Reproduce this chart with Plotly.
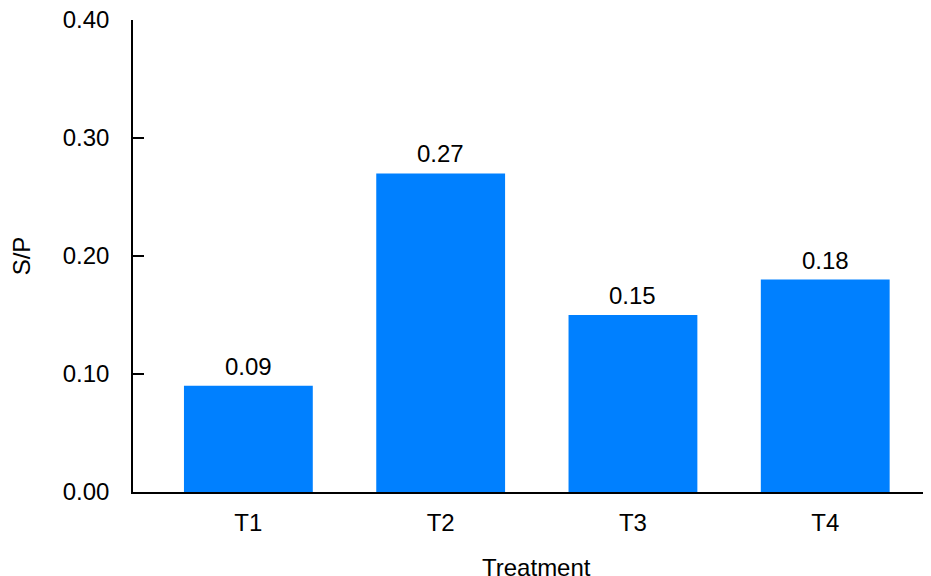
import plotly.graph_objects as go

categories = ["T1", "T2", "T3", "T4"]
values = [0.09, 0.27, 0.15, 0.18]
y_ticks = [0.0, 0.1, 0.2, 0.3, 0.4]
y_tick_labels = ["0.00", "0.10", "0.20", "0.30", "0.40"]
x_title = "Treatment"
y_title = "S/P"

FONT = "Liberation Sans, Arial, Helvetica, sans-serif"
COLOR = "#0080ff"

fig = go.Figure()
fig.add_trace(go.Bar(
    x=categories, y=values, marker=dict(color=COLOR, line=dict(width=0)),
    width=0.67, showlegend=False, hoverinfo="skip",
))

for c, v in zip(categories, values):
    fig.add_annotation(x=c, y=v, text=f"{v:.2f}", showarrow=False,
                       yanchor="bottom", yshift=4,
                       font=dict(family=FONT, size=24, color="black"))

fig.add_annotation(x=0.506, y=0, xref="paper", yref="paper", text=x_title,
                   showarrow=False, xanchor="center", yanchor="middle", yshift=-75,
                   font=dict(family=FONT, size=24, color="black"))

fig.update_layout(
    width=923, height=568,
    margin=dict(l=125, r=0, t=12, b=84, pad=0),
    plot_bgcolor="white", paper_bgcolor="white",
    font=dict(family=FONT, size=24, color="black"),
    bargap=0.33,
)
fig.update_xaxes(
    range=[-0.6, 3.55], showline=True, linecolor="black", linewidth=1.5,
    ticks="", showgrid=False, zeroline=False, automargin=False,
    tickfont=dict(family=FONT, size=24), ticklabelstandoff=8,
    ticklabeloverflow="allow",
)
fig.update_yaxes(
    range=[0, 0.4], showline=True, linecolor="black", linewidth=1.5,
    ticks="inside", ticklen=11, tickwidth=1.5, tickcolor="black",
    tickvals=y_ticks, ticktext=y_tick_labels, showgrid=False, zeroline=False,
    automargin=False, ticklabeloverflow="allow",
    tickfont=dict(family=FONT, size=24), ticklabelstandoff=17,
    title=dict(text=y_title, font=dict(family=FONT, size=24), standoff=29),
)

fig.write_html("out.html")
